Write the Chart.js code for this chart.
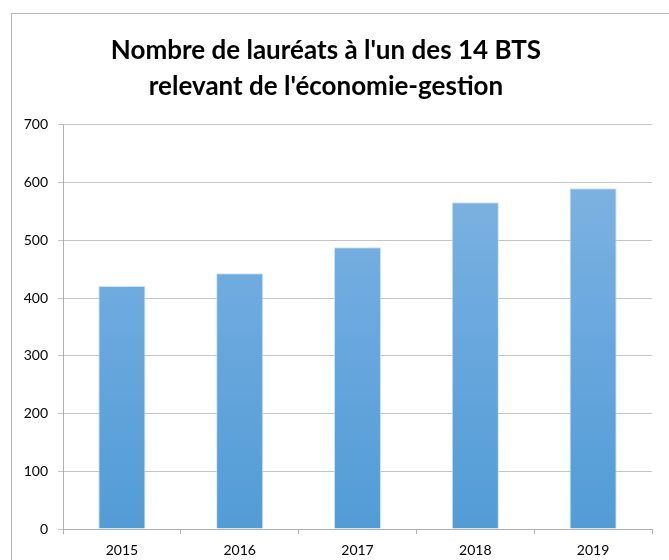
<!DOCTYPE html>
<html lang="fr">
<head>
    <meta charset="UTF-8">
    <title>Nombre de lauréats BTS économie-gestion</title>
    <script src="https://cdn.jsdelivr.net/npm/chart.js"></script>
    <style>
        html, body {
            margin: 0;
            padding: 0;
            background: #fff;
            overflow: hidden;
        }
        #frame {
            position: absolute;
            left: 11px;
            top: 13px;
            width: 700px;
            height: 600px;
            border-left: 1px solid #b4b4b4;
            border-top: 1px solid #b4b4b4;
        }
        #chart {
            position: absolute;
            left: 0;
            top: 0;
        }
    </style>
</head>
<body>
    <div id="frame"></div>
    <canvas id="chart" width="669" height="560"></canvas>

    <script>
        // Données
        const annees = ['2015', '2016', '2017', '2018', '2019'];
        const laureats = [421, 443, 488, 566, 590];
        const titre = ["Nombre de lauréats à l'un des 14 BTS", "relevant de l'économie-gestion"];

        // Dégradé vertical des barres (clair en haut, plus foncé en bas)
        function degrade(context) {
            const chart = context.chart;
            const area = chart.chartArea;
            if (!area) return '#6aa8dc';
            const g = chart.ctx.createLinearGradient(0, area.top, 0, area.bottom);
            g.addColorStop(0, '#84b6e2');
            g.addColorStop(0.5, '#6aa8de');
            g.addColorStop(1, '#529cd6');
            return g;
        }

        const ctx = document.getElementById('chart').getContext('2d');
        new Chart(ctx, {
            type: 'bar',
            data: {
                labels: annees,
                datasets: [{
                    data: laureats,
                    backgroundColor: degrade,
                    borderColor: 'rgba(200, 225, 245, 0.9)',
                    borderWidth: 1,
                    categoryPercentage: 1,
                    barPercentage: 0.4
                }]
            },
            options: {
                responsive: false,
                animation: false,
                layout: {
                    padding: { left: 0, right: 17, top: 0, bottom: 0 }
                },
                plugins: {
                    legend: { display: false },
                    tooltip: { enabled: false },
                    title: {
                        display: true,
                        text: titre,
                        color: '#000',
                        font: { family: 'Lato', size: 26, weight: 'bold', lineHeight: 1.4 },
                        padding: { top: 32, bottom: 20 }
                    }
                },
                scales: {
                    x: {
                        afterFit: function (scale) { scale.height = 31; },
                        grid: {
                            offset: true,
                            drawOnChartArea: false,
                            drawTicks: true,
                            tickLength: 5,
                            color: '#b0b0b0'
                        },
                        border: { display: true, color: '#b0b0b0' },
                        ticks: {
                            color: '#000',
                            padding: 8,
                            font: { family: 'Lato', size: 14 }
                        }
                    },
                    y: {
                        min: 0,
                        max: 700,
                        afterFit: function (scale) { scale.width = 63; },
                        ticks: {
                            stepSize: 100,
                            color: '#000',
                            padding: 10,
                            font: { family: 'Lato', size: 14 }
                        },
                        grid: {
                            color: '#c4c4c4',
                            tickLength: 5
                        },
                        border: { display: true, color: '#b0b0b0' }
                    }
                }
            }
        });
    </script>
</body>
</html>
